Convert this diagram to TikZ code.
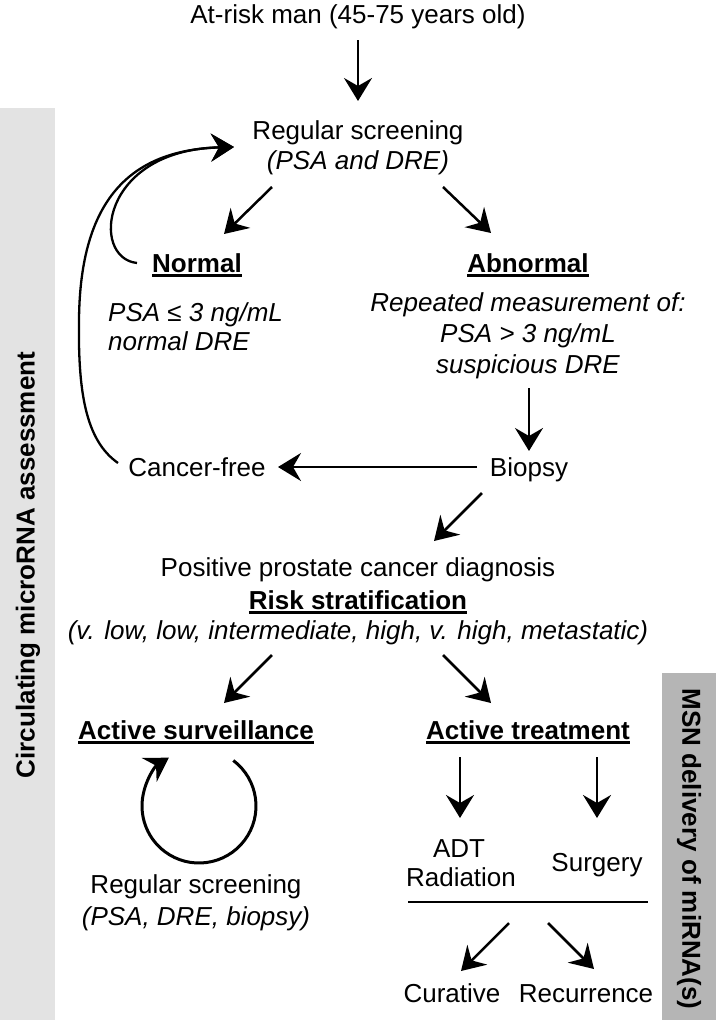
\documentclass[tikz,border=0pt]{standalone}
\usepackage{fontspec}
\setmainfont{Liberation Sans}
\usetikzlibrary{arrows.meta,calc}
\definecolor{barL}{gray}{0.89}
\definecolor{barR}{gray}{0.71}
\newcommand\ulb[1]{\leavevmode\setbox0=\hbox{\bfseries #1}\rlap{\rule[-4.5pt]{\wd0}{2.2pt}}\box0}
\begin{document}
\begin{tikzpicture}[x=1pt,y=-1pt,
  txt/.style={inner sep=0pt, anchor=base, font=\fontsize{26}{30}\selectfont},
  itx/.style={inner sep=0pt, anchor=base, font=\fontsize{26}{30}\selectfont\itshape},
  side/.style={inner sep=0pt, font=\fontsize{26}{30}\selectfont\bfseries},
  arr/.style={line width=2.5pt, -{Stealth[length=23pt,width=28pt,inset=8pt]}},
  crv/.style={line width=2.3pt, -{Stealth[length=23pt,width=28pt,inset=8pt]}},
  sep/.style={line width=2.5pt}]
\useasboundingbox (0,0) rectangle (716,1020);
% side bars
\fill[barL] (0,108) rectangle (55,1020);
\fill[barR] (662,673) rectangle (716,1020);
\node[side, rotate=90] (lbar) at (28,565) {Circulating microRNA assessment};
\node[side, rotate=-90] (rbar) at (689,849) {MSN delivery of miRNA(s)};
% texts
\node[txt] (atrisk) at (358,23) {At-risk man (45-75 years old)};
\node[txt] (screen) at (358,139) {Regular screening};
\node[itx] (screenb) at (358,169) {(PSA and DRE)};
\node[txt] (normal) at (197,272) {\ulb{Normal}};
\node[txt] (abnormal) at (528,272) {\ulb{Abnormal}};
\node[itx, anchor=base west] (psaa) at (108,321) {PSA ≤ 3 ng/mL};
\node[itx, anchor=base west] (psab) at (108,350) {normal DRE};
\node[itx] (rep) at (528,311) {Repeated measurement of:};
\node[itx] (psac) at (528,342) {PSA > 3 ng/mL};
\node[itx] (susp) at (528,373) {suspicious DRE};
\node[txt] (biopsy) at (529,476) {Biopsy};
\node[txt] (cfree) at (197,476) {Cancer-free};
\node[txt] (pos) at (358,576) {Positive prostate cancer diagnosis};
\node[txt] (risk) at (358,609) {\ulb{Risk stratification}};
\node[itx] (levels) at (358,639) {(v. low, low, intermediate, high, v. high, metastatic)};
\node[txt] (asurv) at (196,739) {\ulb{Active surveillance}};
\node[txt] (atreat) at (528,739) {\ulb{Active treatment}};
\node[txt] (rs) at (196,893) {Regular screening};
\node[itx] (rsb) at (196,925) {(PSA, DRE, biopsy)};
\node[txt] (adt) at (459,857) {ADT};
\node[txt] (rad) at (461,886) {Radiation};
\node[txt] (surg) at (597,871) {Surgery};
\node[txt] (cur) at (452,1002) {Curative};
\node[txt] (rec) at (586,1002) {Recurrence};
% connector end points
\coordinate (a0s) at (358,40);  \coordinate (a0e) at (358,101);
\coordinate (a1s) at (272,187); \coordinate (a1e) at (224,234);
\coordinate (a2s) at (443,187); \coordinate (a2e) at (491,233);
\coordinate (a3s) at (529,388); \coordinate (a3e) at (529,451);
\coordinate (a4s) at (477,467); \coordinate (a4e) at (278,467);
\coordinate (a5s) at (482,493); \coordinate (a5e) at (434,541);
\coordinate (a6s) at (272,655); \coordinate (a6e) at (224,703);
\coordinate (a7s) at (443,655); \coordinate (a7e) at (491,703);
\coordinate (a8s) at (460,757); \coordinate (a8e) at (460,818);
\coordinate (a9s) at (597,757); \coordinate (a9e) at (597,818);
\coordinate (a10s) at (509,923); \coordinate (a10e) at (461,971);
\coordinate (a11s) at (548,923); \coordinate (a11e) at (594,969);
\coordinate (ls) at (408,902); \coordinate (le) at (648,902);
\coordinate (tip) at (234,147);
\coordinate (nstart) at (137,263);
\coordinate (cstart) at (118,463);
\coordinate (cmid) at (79,320);
\coordinate (cc) at (199,806);
% connectors
\draw[arr] (a0s) -- (a0e);
\draw[arr] (a1s) -- (a1e);
\draw[arr] (a2s) -- (a2e);
\draw[arr] (a3s) -- (a3e);
\draw[arr] (a4s) -- (a4e);
\draw[arr] (a5s) -- (a5e);
\draw[arr] (a6s) -- (a6e);
\draw[arr] (a7s) -- (a7e);
\draw[arr] (a8s) -- (a8e);
\draw[arr] (a9s) -- (a9e);
\draw[arr] (a10s) -- (a10e);
\draw[arr] (a11s) -- (a11e);
\draw[sep] (ls) -- (le);
\draw[crv] (nstart) .. controls (90,258) and (100,150) .. (tip);
\draw[crv] (cstart) .. controls (85,440) and (78,390) .. (cmid) .. controls (80,200) and (130,150) .. (tip);
\draw[arr, line width=3pt] ($(cc)+(-53:57)$) arc[start angle=-53, end angle=238, radius=57];
\end{tikzpicture}
\end{document}
